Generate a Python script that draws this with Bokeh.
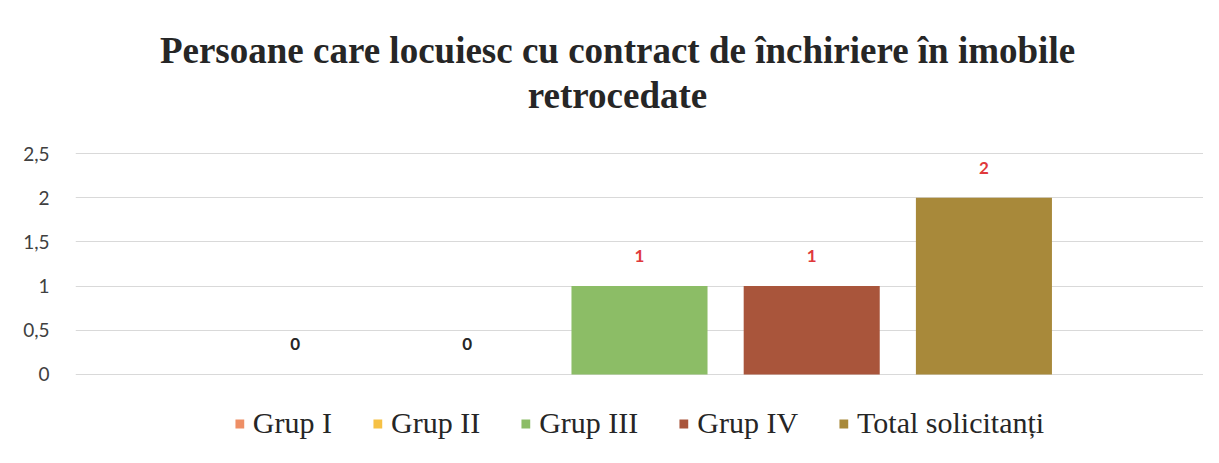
from bokeh.plotting import figure
from bokeh.models import (FactorRange, Range1d, FixedTicker, Legend, LegendItem,
                          ColumnDataSource, LabelSet, Label)
from bokeh.core.properties import value
from bokeh.embed import file_html
from bokeh.resources import INLINE

categories = ["Grup I", "Grup II", "Grup III", "Grup IV", "Total solicitanți"]
values = [0, 0, 1, 1, 2]
bar_colors = ["#EE8F66", "#F6C145", "#8CBD66", "#A9553B", "#A8893A"]
label_colors = ["#262626", "#262626", "#E0393B", "#E0393B", "#E0393B"]
y_ticks = [0, 0.5, 1, 1.5, 2, 2.5]
y_tick_labels = ["0", "0,5", "1", "1,5", "2", "2,5"]
title_line1 = "Persoane care locuiesc cu contract de închiriere în imobile"
title_line2 = "retrocedate"

src = ColumnDataSource(dict(cat=categories, val=values, color=bar_colors,
                            lab=[str(v) for v in values], lcol=label_colors))

# frame covers the whole canvas; the band above 2.5 holds the title
p = figure(width=1203, height=447, output_backend="svg", toolbar_location=None,
           title=None,
           x_range=FactorRange(factors=categories, range_padding=0.31),
           y_range=Range1d(-0.826, 4.231))

TITLE_FONT = "Liberation Serif"
for txt, sy in [(title_line1, 397), (title_line2, 352)]:
    p.add_layout(Label(x=542, y=sy, x_units="screen", y_units="screen", text=txt,
                       text_font=TITLE_FONT, text_font_style="bold",
                       text_font_size="37px", text_color="#262626",
                       text_align="center", text_baseline="middle"))

r = p.vbar(x="cat", top="val", width=0.79, fill_color="color", line_color=None,
           source=src)

labels = LabelSet(x="cat", y="val", text="lab", source=src, text_color="lcol",
                  text_font=value("Lato"), text_font_style="bold", text_font_size="17px",
                  text_align="center", text_baseline="middle", y_offset=30)
p.add_layout(labels)

p.xaxis.visible = False
p.xgrid.visible = False
p.yaxis.ticker = FixedTicker(ticks=y_ticks)
p.yaxis.major_label_overrides = {t: l for t, l in zip(y_ticks, y_tick_labels)}
p.yaxis.axis_line_color = None
p.yaxis.major_tick_line_color = None
p.yaxis.minor_tick_line_color = None
p.yaxis.major_label_text_font = "Lato"
p.yaxis.major_label_text_font_size = "19px"
p.yaxis.major_label_text_color = "#404040"
p.yaxis.major_label_standoff = 20
p.ygrid.grid_line_color = "#D9D9D9"
p.ygrid.grid_line_width = 1
p.outline_line_color = None
p.border_fill_color = "white"
p.background_fill_color = "white"

items = []
for i, c in enumerate(categories):
    items.append(LegendItem(label=c, renderers=[r], index=i))
legend = Legend(items=items, orientation="horizontal", location="bottom_center",
                label_text_font=TITLE_FONT, label_text_font_size="30px",
                label_text_color="#262626", glyph_width=11, glyph_height=11,
                spacing=40, label_standoff=8, border_line_color=None,
                background_fill_alpha=0, padding=4, margin=7)
p.add_layout(legend)

p.min_border_left = 75
p.min_border_right = 0
p.min_border_top = 0
p.min_border_bottom = 0

open("out.html", "w").write(file_html(p, INLINE))
